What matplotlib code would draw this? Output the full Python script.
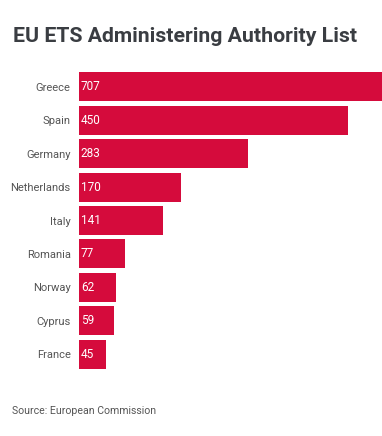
import matplotlib.pyplot as plt

countries = ['Greece', 'Spain', 'Germany', 'Netherlands', 'Italy',
             'Romania', 'Norway', 'Cyprus', 'France']
values = [707, 450, 283, 170, 141, 77, 62, 59, 45]

bar_color = '#d50b3c'
text_grey = '#555555'

fig = plt.figure(figsize=(3.82, 4.36), dpi=100)
ax = fig.add_axes([79 / 382, 65 / 436, 1 - 79 / 382, 301 / 436])

pos = list(range(len(countries)))
ax.barh(pos, values, height=0.87, color=bar_color)
ax.set_ylim(len(countries) - 0.5, -0.5)
ax.set_xlim(0, 507)

for i, v in enumerate(values):
    ax.text(3, i, str(v), color='white', fontsize=8.5, va='center', ha='left',
            family='Roboto')

ax.set_yticks(pos)
ax.set_yticklabels(countries, fontsize=8, color=text_grey, family='Roboto')
ax.tick_params(axis='y', length=0, pad=6)
ax.set_xticks([])
for s in ax.spines.values():
    s.set_visible(False)

fig.text(13 / 382, 1 - 37 / 436, 'EU ETS Administering Authority List',
         fontsize=15.3, fontweight='bold', color='#3a3d42', va='center',
         ha='left', family='Roboto')
fig.text(12 / 382, 1 - 411 / 436, 'Source: European Commission',
         fontsize=7.6, color=text_grey, va='center', ha='left', family='Roboto')

fig.savefig('out.png', dpi=100)
